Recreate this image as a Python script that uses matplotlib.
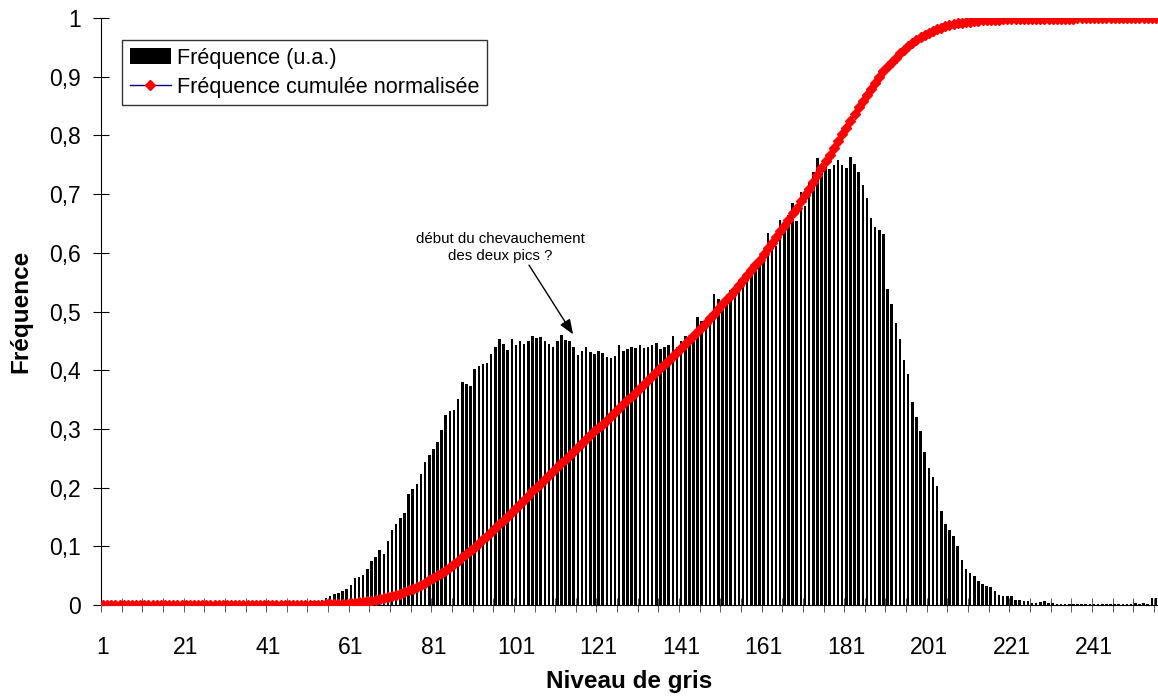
import numpy as np
import matplotlib
matplotlib.use("Agg")
from matplotlib import pyplot as plt
from matplotlib.patches import Patch
from matplotlib.lines import Line2D

plt.rcParams['font.family'] = ['Liberation Sans', 'DejaVu Sans']

# niveaux de gris 1..256
levels = np.arange(1, 257)

# frequence (u.a.), 10 niveaux par ligne
freq = [
    0, 0, 0, 0, 0, 0, 0, 0, 0, 0,                                   # 1-10
    0, 0, 0, 0, 0, 0, 0, 0, 0, 0,                                   # 11-20
    0, 0, 0, 0, 0, 0, 0, 0, 0, 0,                                   # 21-30
    0, 0, 0, 0, 0, 0, 0, 0, 0, 0,                                   # 31-40
    0, 0, 0, 0, 0.001, 0.002, 0.002, 0.003, 0.004, 0.006,           # 41-50
    0.005, 0.006, 0.007, 0.009, 0.012, 0.016, 0.018, 0.020, 0.024, 0.028,
    0.034, 0.046, 0.048, 0.051, 0.061, 0.075, 0.082, 0.094, 0.087, 0.109,
    0.128, 0.138, 0.148, 0.156, 0.189, 0.197, 0.206, 0.224, 0.244, 0.255,
    0.265, 0.278, 0.298, 0.324, 0.330, 0.333, 0.351, 0.380, 0.376, 0.373,
    0.402, 0.407, 0.410, 0.413, 0.428, 0.440, 0.453, 0.445, 0.434, 0.453,  # 91-100
    0.443, 0.450, 0.445, 0.450, 0.458, 0.455, 0.457, 0.449, 0.445, 0.440,
    0.450, 0.460, 0.452, 0.450, 0.440, 0.426, 0.433, 0.440, 0.431, 0.428,
    0.433, 0.430, 0.422, 0.420, 0.424, 0.443, 0.432, 0.436, 0.440, 0.438,
    0.443, 0.438, 0.440, 0.443, 0.446, 0.436, 0.440, 0.443, 0.459, 0.440,
    0.450, 0.459, 0.457, 0.463, 0.491, 0.484, 0.477, 0.489, 0.530, 0.522,
    0.514, 0.523, 0.537, 0.536, 0.534, 0.541, 0.550, 0.560, 0.571, 0.582,  # 151-160
    0.600, 0.634, 0.622, 0.612, 0.656, 0.642, 0.664, 0.685, 0.654, 0.704,
    0.680, 0.720, 0.737, 0.761, 0.752, 0.747, 0.742, 0.750, 0.758, 0.750,
    0.744, 0.763, 0.751, 0.737, 0.715, 0.694, 0.659, 0.644, 0.638, 0.632,
    0.538, 0.513, 0.480, 0.453, 0.417, 0.394, 0.346, 0.320, 0.296, 0.260,
    0.234, 0.218, 0.203, 0.160, 0.138, 0.128, 0.118, 0.101, 0.077, 0.061,  # 201-210
    0.055, 0.049, 0.041, 0.035, 0.032, 0.030, 0.023, 0.017, 0.016, 0.015,
    0.015, 0.009, 0.009, 0.007, 0.006, 0.004, 0.004, 0.005, 0.007, 0.003,
    0.004, 0.002, 0.002, 0.002, 0.002, 0.001, 0.002, 0.002, 0.002, 0.001,
    0.002, 0.002, 0.001, 0.001, 0.001, 0.001, 0.002, 0.002, 0.002, 0.001,
    0.004, 0.002, 0.004, 0.001, 0.012, 0.012,                       # 251-256
]

# frequence cumulee normalisee de cet histogramme
freq_cum = np.cumsum(freq) / np.sum(freq)

x_labels = [str(v) for v in range(1, 257, 20)]
y_ticks = [0, 0.1, 0.2, 0.3, 0.4, 0.5, 0.6, 0.7, 0.8, 0.9, 1]
y_labels = ['0', '0,1', '0,2', '0,3', '0,4', '0,5', '0,6', '0,7', '0,8', '0,9', '1']

fig = plt.figure(figsize=(11.58, 6.97), dpi=100)
ax = fig.add_axes([101 / 1158, 92 / 697, 1057 / 1158, 587 / 697])

ax.bar(levels, freq, width=0.62, color='black', edgecolor='none', zorder=2)
ax.plot(levels, freq_cum, color='#000080', linewidth=1.2, marker='D',
        markersize=5.5, markerfacecolor='red', markeredgecolor='red', zorder=3)

ax.set_xlim(0.5, 256.5)
ax.set_ylim(0, 1)
for s in ['top', 'right']:
    ax.spines[s].set_visible(False)

# labels tous les 20 niveaux, graduations tous les 5
ax.set_xticks(range(1, 257, 20))
ax.set_xticklabels(x_labels, fontsize=16.5)
ax.set_xticks(np.arange(0.5, 257, 5), minor=True)
ax.tick_params(axis='x', which='major', length=0, pad=22)
ax.tick_params(axis='x', which='minor', direction='inout', length=10, color='#404040')

ax.set_yticks(y_ticks)
ax.set_yticklabels(y_labels, fontsize=16.5)
ax.tick_params(axis='y', direction='inout', length=12, pad=8.5)

ax.set_xlabel('Niveau de gris', fontsize=17.5, fontweight='bold', labelpad=8)
ax.set_ylabel('Fréquence', fontsize=17.5, fontweight='bold', labelpad=12)

ax.text(97.2, 0.609, 'début du chevauchement\ndes deux pics ?', fontsize=10.8,
        ha='center', va='center', linespacing=1.35)
ax.annotate('', xy=(115.2, 0.457), xytext=(103.8, 0.583),
            arrowprops=dict(arrowstyle='-|>,head_length=0.9,head_width=0.35',
                            color='black', lw=1))

handles = [Patch(facecolor='black', edgecolor='none'),
           Line2D([], [], color='#000080', linewidth=1, marker='D', markersize=5.5,
                  markerfacecolor='red', markeredgecolor='red')]
leg = fig.legend(handles, ['Fréquence (u.a.)', 'Fréquence cumulée normalisée'],
                 loc='upper left', bbox_to_anchor=(122 / 1158, 1 - 40 / 697),
                 fontsize=15.6, frameon=True, fancybox=False, borderaxespad=0,
                 handlelength=1.9, handleheight=0.75, handletextpad=0.3,
                 borderpad=0.35, labelspacing=0.38)
leg.get_frame().set_edgecolor('black')
leg.get_frame().set_linewidth(1)

plt.savefig('out.png', dpi=100)
